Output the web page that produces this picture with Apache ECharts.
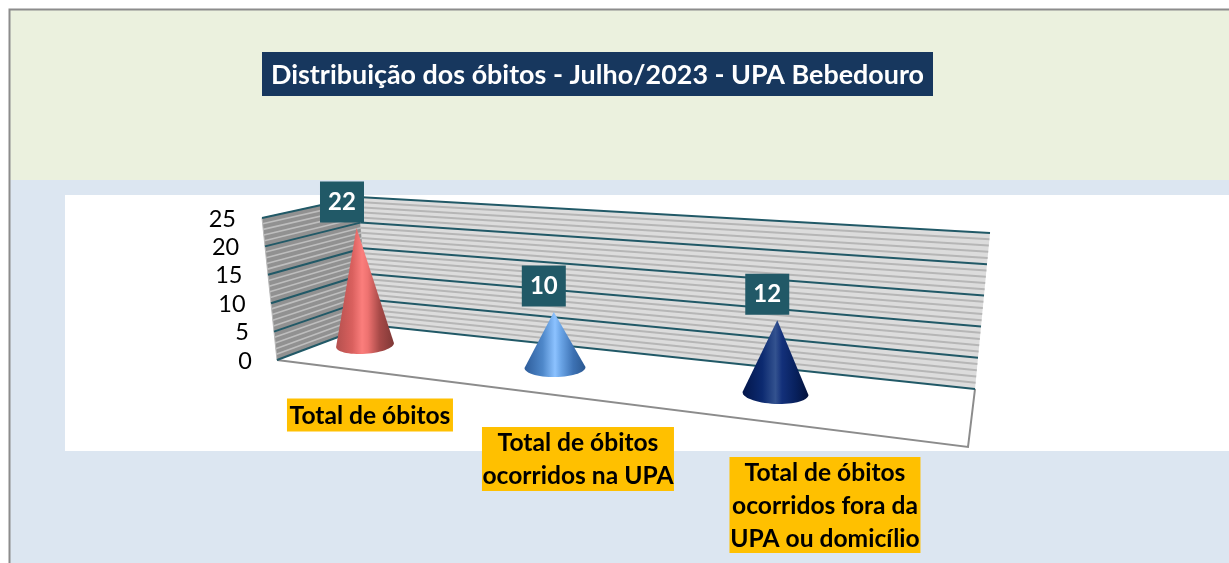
<!DOCTYPE html>
<html><head><meta charset="utf-8">
<style>html,body{margin:0;padding:0;background:#fff}#c{width:1229px;height:563px}</style>
<script src="https://cdn.jsdelivr.net/npm/echarts@6/dist/echarts.min.js"></script>
</head><body><div id="c"></div>
<script>
// ---- data
const titleText = 'Distribuição dos óbitos - Julho/2023 - UPA Bebedouro';
const categories = ['Total de óbitos', 'Total de óbitos\nocorridos na UPA', 'Total de óbitos\nocorridos fora da\nUPA ou domicílio'];
const values = [22, 10, 12];
const majorTicks = [0, 5, 10, 15, 20, 25];
const minorTicks = [1, 2, 3, 4, 6, 7, 8, 9, 11, 12, 13, 14, 16, 17, 18, 19, 21, 22, 23, 24];

// ---- style / projection of the 3D box
const FONT = 'Lato, Carlito, sans-serif';
const TEAL = '#215967';
const WALL = { bl: [370, 325], br: [975, 389], tl: [358, 197], tr: [990, 233] };
const SIDE = { fb: [277, 360], bb: [370, 325], ft: [262, 218], bt: [358, 197] };
const FLOOR_FR = [968, 447];
const quad = (c, s) => c[0] + c[1] * s + c[2] * s * s;
const CONE_X = [281.44, 478.5, 137.25], CONE_Y = [335.06, 57, 15.75];
const CONE_RX = [57.25, 3, 9], CONE_H = [0.938, -0.05, 0.2565];
const LABEL_X = [280.6, 507, 175.5], LABEL_Y = [393.75, 126, 9];
const BOX_SIZE = [[166, 33], [192, 64], [191, 96]];
const CONE_STOPS = [
  [[0, '#b4504e'], [0.28, '#d9605e'], [0.45, '#fb7e7c'], [0.55, '#ee7270'], [0.75, '#a84a48'], [1, '#7e3836']],
  [[0, '#2d5c9a'], [0.3, '#4f88ca'], [0.5, '#8cc2ff'], [0.6, '#6aa4e6'], [0.8, '#3d72b4'], [1, '#2a5790']],
  [[0, '#03164a'], [0.3, '#0c2a70'], [0.5, '#33528f'], [0.6, '#13307a'], [0.8, '#08215e'], [1, '#03123c']]
];
const lerp = (a, b, t) => [a[0] + (b[0] - a[0]) * t, a[1] + (b[1] - a[1]) * t];

function tOf(api, v, cs) { return (cs.y + cs.height - api.coord([0, v])[1]) / cs.height; }
function wallLine(t) { return [lerp(WALL.bl, WALL.tl, t), lerp(WALL.br, WALL.tr, t)]; }
function sideLine(t) { return [lerp(SIDE.fb, SIDE.ft, t), lerp(SIDE.bb, SIDE.bt, t)]; }

function renderShell(params, api) {
  return { type: 'group', children: [
    { type: 'polygon', shape: { points: [SIDE.fb, SIDE.bb, SIDE.bt, SIDE.ft] }, style: { fill: '#919191', stroke: '#b8b8b8', lineWidth: 1 } },
    { type: 'polygon', shape: { points: [WALL.bl, WALL.br, WALL.tr, WALL.tl] }, style: { fill: '#dcdcdc' } },
    { type: 'polyline', shape: { points: [SIDE.fb, FLOOR_FR, WALL.br] }, style: { fill: 'none', stroke: '#8c8c8c', lineWidth: 2 } }
  ] };
}
function renderGrid(major) {
  return function (params, api) {
    const t = tOf(api, api.value(1), params.coordSys);
    const stW = major ? { stroke: TEAL, lineWidth: 2, fill: 'none' } : { stroke: '#b6b6b6', lineWidth: 2, fill: 'none' };
    const stS = major ? { stroke: TEAL, lineWidth: 2, fill: 'none' } : { stroke: '#bebebe', lineWidth: 1.6, fill: 'none' };
    const w = wallLine(t), s = sideLine(t);
    return { type: 'group', children: [
      { type: 'line', shape: { x1: w[0][0], y1: w[0][1], x2: w[1][0], y2: w[1][1] }, style: stW },
      { type: 'line', shape: { x1: s[0][0], y1: s[0][1], x2: s[1][0], y2: s[1][1] }, style: stS }
    ] };
  };
}
function renderCone(params, api) {
  const cs = params.coordSys, i = api.value(0), v = api.value(1);
  const s = (api.coord([i, 0])[0] - cs.x) / cs.width;
  const cx = quad(CONE_X, s), cy = quad(CONE_Y, s);
  const rx = quad(CONE_RX, s) / 2, ry = 8.4 + 2.4 * s, tilt = -0.1 + 0.174 * s;
  const h = api.size([0, v])[1] * quad(CONE_H, s);
  const lean = (-0.52 + 0.8 * s) * v;
  const tip = [cx + lean, cy - h];
  const pts = [tip];
  for (let a = 0; a <= 180; a += 6) {
    const r = a * Math.PI / 180, ex = rx * Math.cos(r), ey = ry * Math.sin(r);
    pts.push([cx + ex * Math.cos(tilt) - ey * Math.sin(tilt), cy + ex * Math.sin(tilt) + ey * Math.cos(tilt)]);
  }
  const stops = CONE_STOPS[i].map(p => ({ offset: p[0], color: p[1] }));
  const dx = i === 0 ? -14.5 : -10;
  return { type: 'group', children: [
    { type: 'polygon', z2: 1, shape: { points: pts }, style: { fill: { type: 'linear', x: 0, y: 0, x2: 1, y2: 0, colorStops: stops } } },
    { type: 'rect', z2: 2, shape: { x: tip[0] + dx - 22, y: tip[1] - 26 - 20.5, width: 44, height: 41 }, style: { fill: TEAL } },
    { type: 'text', z2: 3, style: { text: String(v), x: tip[0] + dx, y: tip[1] - 26, align: 'center', verticalAlign: 'middle', fill: '#fff', font: 'bold 24px ' + FONT } }
  ] };
}
function renderCatLabel(params, api) {
  const cs = params.coordSys, i = api.value(0);
  const s = (api.coord([i, 0])[0] - cs.x) / cs.width;
  const x = quad(LABEL_X, s), y = quad(LABEL_Y, s), b = BOX_SIZE[i];
  return { type: 'group', children: [
    { type: 'rect', shape: { x: x - b[0] / 2, y: y - b[1] / 2, width: b[0], height: b[1] }, style: { fill: '#FFC000' } },
    { type: 'text', style: { text: categories[i], x: x, y: y + 1, align: 'center', verticalAlign: 'middle', lineHeight: 33, fill: '#000', font: 'bold 24.6px ' + FONT } }
  ] };
}

const rich = {};
majorTicks.forEach(v => { rich['t' + v] = { fontSize: 23.5, fontFamily: FONT, color: '#000', padding: [0, v * 0.64, 0, 0] }; });

const chart = echarts.init(document.getElementById('c'), null, { renderer: 'canvas' });
const pairs = values.map((v, i) => [i, v]);
chart.setOption({
  animation: false,
  backgroundColor: '#fff',
  title: {
    show: false
  },
  graphic: [
    { type: 'rect', z: -10, shape: { x: 10, y: 10, width: 1219, height: 170 }, style: { fill: '#EBF1DE' } },
    { type: 'rect', z: -10, shape: { x: 10, y: 180, width: 1219, height: 383 }, style: { fill: '#DCE6F1' } },
    { type: 'rect', z: -9, shape: { x: 65, y: 195, width: 1164, height: 256 }, style: { fill: '#fff' } },
    { type: 'polyline', z: -8, shape: { points: [[9.5, 563], [9.5, 9.5], [1229, 9.5]] }, style: { fill: 'none', stroke: '#8c8c8c', lineWidth: 2 } },
    { type: 'rect', z: 10, shape: { x: 262, y: 52, width: 671, height: 44 }, style: { fill: '#17375E' } },
    { type: 'text', z: 11, x: 597.5, y: 75, style: { text: titleText, align: 'center', verticalAlign: 'middle', fill: '#fff', font: 'bold 26.9px ' + FONT } }
  ],
  grid: { left: 260, top: 219, width: 720, height: 142, containLabel: false },
  xAxis: { type: 'category', data: categories, show: false },
  yAxis: {
    type: 'value', min: 0, max: 25, interval: 5,
    axisLine: { show: false }, axisTick: { show: false }, splitLine: { show: false },
    axisLabel: { margin: 8, formatter: v => '{t' + v + '|' + v + '}', rich: rich }
  },
  series: [
    { type: 'custom', z: 2, silent: true, clip: false, coordinateSystem: 'cartesian2d', renderItem: renderShell, data: [[0, 0]] },
    { type: 'custom', z: 3, silent: true, clip: false, renderItem: renderGrid(false), data: minorTicks.map(v => [0, v]) },
    { type: 'custom', z: 4, silent: true, clip: false, renderItem: renderGrid(true), data: majorTicks.map(v => [0, v]) },
    { type: 'custom', z: 5, silent: true, clip: false, renderItem: renderCone, data: pairs },
    { type: 'custom', z: 6, silent: true, clip: false, renderItem: renderCatLabel, data: pairs }
  ]
});
</script></body></html>
